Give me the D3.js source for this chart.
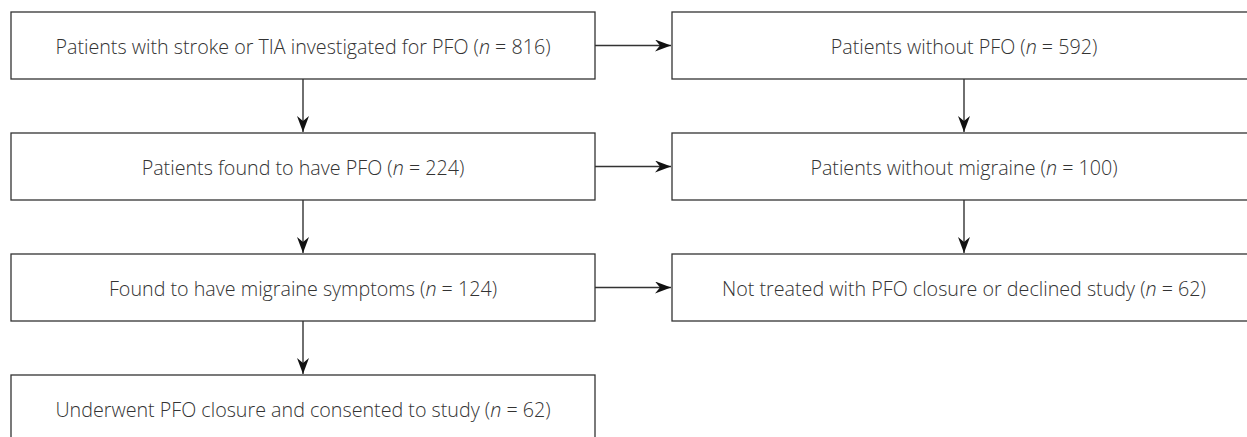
<!DOCTYPE html>
<html>
<head>
<meta charset="utf-8">
<script src="https://cdn.jsdelivr.net/npm/d3@7"></script>
<style>
  body { margin: 0; background: #fff; }
  svg { display: block; }
</style>
</head>
<body>
<div id="chart"></div>
<script>
// flow chart boxes
const labels = [
  "Patients with stroke or TIA investigated for PFO",
  "Patients found to have PFO",
  "Found to have migraine symptoms",
  "Underwent PFO closure and consented to study",
  "Patients without PFO",
  "Patients without migraine",
  "Not treated with PFO closure or declined study"
];
const counts = [816, 224, 124, 62, 592, 100, 62];
const columns = [0, 0, 0, 0, 1, 1, 1];
const rows = [0, 1, 2, 3, 0, 1, 2];

// links: [from, to]
const links = [[0, 1], [1, 2], [2, 3], [4, 5], [5, 6], [0, 4], [1, 5], [2, 6]];

const width = 1247, height = 437;
const boxW = 584, boxH = 67;

const x = d3.scaleLinear().domain([0, 1]).range([11, 672]);
const y = d3.scaleLinear().domain([0, 3]).range([12, 375]);

const svg = d3.select("#chart")
  .append("svg")
  .attr("width", width)
  .attr("height", height);

svg.append("defs")
  .append("marker")
  .attr("id", "arrow")
  .attr("viewBox", "0 0 16 12")
  .attr("refX", 16)
  .attr("refY", 6)
  .attr("markerWidth", 16)
  .attr("markerHeight", 12)
  .attr("markerUnits", "userSpaceOnUse")
  .attr("orient", "auto")
  .append("path")
  .attr("d", "M0,0 L16,6 L0,12 L5,6 Z")
  .style("fill", "#111");

const nodes = labels.map((d, i) => ({
  label: d, n: counts[i], col: columns[i], row: rows[i]
}));

// arrows
svg.selectAll("line.link")
  .data(links)
  .enter()
  .append("line")
  .attr("class", "link")
  .attr("x1", d => {
    const a = nodes[d[0]], b = nodes[d[1]];
    return a.col === b.col ? x(a.col) + boxW / 2 : x(a.col) + boxW;
  })
  .attr("y1", d => {
    const a = nodes[d[0]], b = nodes[d[1]];
    return a.col === b.col ? y(a.row) + boxH : y(a.row) + boxH / 2;
  })
  .attr("x2", d => {
    const a = nodes[d[0]], b = nodes[d[1]];
    return a.col === b.col ? x(b.col) + boxW / 2 : x(b.col) - 1;
  })
  .attr("y2", d => {
    const a = nodes[d[0]], b = nodes[d[1]];
    return a.col === b.col ? y(b.row) - 1 : y(b.row) + boxH / 2;
  })
  .style("stroke", "#333")
  .style("stroke-width", 1.4)
  .attr("marker-end", "url(#arrow)");

// boxes
const g = svg.selectAll("g.node")
  .data(nodes)
  .enter()
  .append("g")
  .attr("class", "node")
  .attr("transform", d => `translate(${x(d.col)},${y(d.row)})`);

g.append("rect")
  .attr("width", boxW)
  .attr("height", boxH)
  .style("fill", "#fff")
  .style("stroke", "#333")
  .style("stroke-width", 1.3);

const t = g.append("text")
  .attr("x", boxW / 2)
  .attr("y", boxH / 2)
  .attr("dy", "0.45em")
  .attr("text-anchor", "middle")
  .style("font-family", "'Open Sans', sans-serif")
  .style("font-weight", 300)
  .style("font-size", "19.7px")
  .style("fill", "#333");

t.append("tspan").text(d => d.label + " (");
t.append("tspan").style("font-style", "italic").text("n");
t.append("tspan").text(d => " = " + d.n + ")");
</script>
</body>
</html>
